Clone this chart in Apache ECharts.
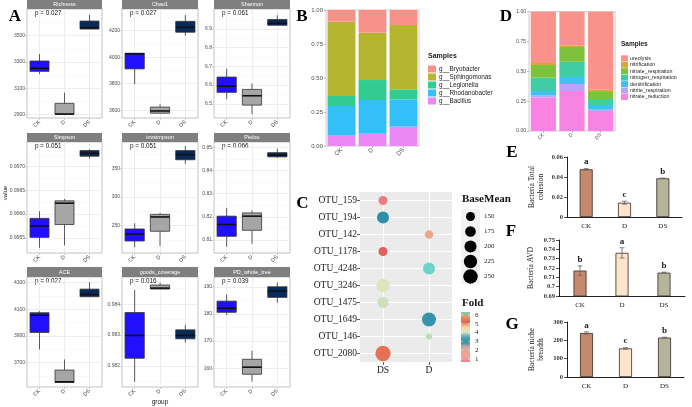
<!DOCTYPE html>
<html><head><meta charset="utf-8">
<script src="https://cdn.jsdelivr.net/npm/echarts@6/dist/echarts.min.js"></script>
<style>html,body{margin:0;padding:0;background:#fff;}#c{width:692px;height:407px;}</style>
</head><body><div id="c"></div>
<script>
// ---------- DATA ----------
const groups = ['CK', 'D', 'DS'];
// Panel A: box statistics [min, Q1, median, Q3, max] for CK, D, DS
const facetNames = ['Richness', 'Chao1', 'Shannon', 'Simpson', 'invsimpson', 'Pielou', 'ACE', 'goods_coverage', 'PD_whole_tree'];
const facetP = ['p = 0.027', 'p = 0.027', 'p = 0.061', 'p = 0.051', 'p = 0.051', 'p = 0.066', 'p = 0.027', 'p = 0.016', 'p = 0.039'];
const richnessStats = [[3208, 3228, 3251, 3307, 3360], [2900, 2901, 2902, 2984, 3065], [3551, 3551, 3561, 3612, 3658]];
const chao1Stats = [[3797, 3912, 4025, 4030, 4030], [3578, 3578, 3595, 3624, 3646], [4162, 4188, 4225, 4270, 4318]];
const shannonStats = [[6.525, 6.561, 6.594, 6.643, 6.688], [6.445, 6.493, 6.543, 6.577, 6.609], [6.92, 6.92, 6.93, 6.951, 6.974]];
const simpsonStats = [[0.99529, 0.99551, 0.99575, 0.99591, 0.99606], [0.99534, 0.99578, 0.99623, 0.99628, 0.99632], [0.99717, 0.99722, 0.99728, 0.99734, 0.99737]];
const invsimpsonStats = [[212, 223, 235, 244, 254], [214, 240, 265, 269.5, 272], [358, 365, 374, 381, 389]];
const pielouStats = [[0.8071, 0.8116, 0.8167, 0.8203, 0.8239], [0.8084, 0.8142, 0.8203, 0.8217, 0.8228], [0.8455, 0.8459, 0.8466, 0.8477, 0.8494]];
const aceStats = [[3800, 3927, 4057, 4075, 4087], [3552, 3552, 3557, 3645, 3725], [4195, 4195, 4212, 4252, 4303]];
const goodsStats = [[0.98149, 0.98225, 0.98299, 0.98373, 0.98446], [0.98449, 0.98449, 0.98452, 0.98462, 0.98470], [0.98276, 0.98288, 0.98299, 0.98317, 0.98333]];
const pdStats = [[179.6, 180.6, 182.1, 184.7, 187.2], [155.1, 157.8, 160.4, 163.3, 166.5], [184.1, 186.1, 188.4, 190.0, 191.6]];
const facetRange = [[2872, 3704], [3542, 4363], [6.424, 7.007], [0.99518, 0.99752], [202, 396], [0.8044, 0.8523], [3518, 4343], [0.98132, 0.98488], [153.1, 193.6]];
const facetTicks = [[2900, 3100, 3300, 3500], [3600, 3800, 4000, 4200], [6.5, 6.6, 6.7, 6.8, 6.9], [0.9955, 0.996, 0.9965, 0.997], [250, 300, 350], [0.81, 0.82, 0.83, 0.84, 0.85], [3700, 3900, 4100, 4300], [0.982, 0.983, 0.984], [160, 170, 180, 190]];
const facetMinorTicks = [[3000, 3200, 3400, 3600], [3700, 3900, 4100, 4300], [6.45, 6.55, 6.65, 6.75, 6.85, 6.95], [0.99525, 0.99575, 0.99625, 0.99675, 0.99725], [225, 275, 325, 375], [0.805, 0.815, 0.825, 0.835, 0.845], [3600, 3800, 4000, 4200], [0.9815, 0.9825, 0.9835, 0.9845], [155, 165, 175, 185]];
const facetDecimals = [0, 0, 1, 4, 0, 2, 0, 3, 0];

// Panel B: genus relative abundance (CK, D, DS)
const genusNames = ['g__Bryobacter', 'g__Sphingomonas', 'g__Legionella', 'g__Rhodanobacter', 'g__Bacillus'];
const bryobacter = [0.086, 0.167, 0.110];
const sphingomonas = [0.546, 0.348, 0.473];
const legionella = [0.074, 0.147, 0.074];
const rhodanobacter = [0.218, 0.248, 0.201];
const bacillus = [0.076, 0.090, 0.142];

// Panel D: function relative abundance (CK, D, DS)
const functionNames = ['ureolysis', 'nitrification', 'nitrate_respiration', 'nitrogen_respiration', 'denitrification', 'nitrite_respiration', 'nitrate_reduction'];
const ureolysis = [0.430, 0.285, 0.654];
const nitrification = [0.017, 0.011, 0.019];
const nitrateRespiration = [0.106, 0.124, 0.059];
const nitrogenRespiration = [0.112, 0.127, 0.050];
const denitrification = [0.035, 0.059, 0.034];
const nitriteRespiration = [0.020, 0.059, 0.016];
const nitrateReduction = [0.280, 0.335, 0.168];

// Panel C: OTU bubbles
const otuNames = ['OTU_159', 'OTU_194', 'OTU_142', 'OTU_1178', 'OTU_4248', 'OTU_3246', 'OTU_1475', 'OTU_1649', 'OTU_146', 'OTU_2080'];
const otuGroup = ['DS', 'DS', 'D', 'DS', 'D', 'DS', 'DS', 'D', 'D', 'DS'];
const otuBaseMean = [150, 199, 141, 150, 199, 224, 181, 239, 115, 268];
const otuFold = [1.0, 3.0, 2.0, 5.0, 6.0, 4.0, 3.95, 3.1, 3.9, 5.15];
const baseMeanLegend = [150, 175, 200, 225, 250];
const foldLegend = [6, 5, 4, 3, 2, 1];
const cGroups = ['DS', 'D'];

// Panels E, F, G
const totalCohesion = [0.0477, 0.0143, 0.0387];
const totalCohesionErr = [0.0007, 0.0015, 0.0003];
const totalCohesionLetters = ['a', 'c', 'b'];
const avd = [0.7172, 0.7362, 0.7150];
const avdErr = [0.005, 0.0055, 0.0006];
const avdLetters = ['b', 'a', 'b'];
const nicheBreadth = [240, 156, 215];
const nicheBreadthErr = [6, 4, 2];
const nicheBreadthLetters = ['a', 'c', 'b'];

// ---------- STYLE ----------
const SANS = 'Liberation Sans, Arial, sans-serif';
const SERIF = 'Liberation Serif, Times New Roman, serif';
const boxColors = ['#2010FF', '#A6A6A6', '#082A5A'];
const genusColors = ['#F8918A', '#B5B530', '#33CC90', '#33C0F8', '#EC88F5'];
const functionColors = ['#F8928B', '#D6A935', '#7DC23A', '#3ECDA5', '#3CC2EF', '#B7A5FB', '#F983E3'];
const foldPalette = ['#F07C82', '#F3A2A0', '#EDA68A', '#C9A9A8', '#2E8FAA', '#4FA7B1', '#DCE5BC', '#F4D79A', '#E2605A', '#EF9452', '#6AD5C8'];
const barColors = ['#C58A6E', '#FDE4CA', '#B4B59B'];

const grids = [], xAxes = [], yAxes = [], series = [], graphics = [];

function txt(x, y, text, st, extra) {
  graphics.push(Object.assign({ type: 'text', x, y, silent: true, style: Object.assign({ text, fill: '#1a1a1a', align: 'left', verticalAlign: 'middle' }, st) }, extra || {}));
}
function rect(x, y, w, h, fill) {
  graphics.push({ type: 'rect', silent: true, shape: { x, y, width: w, height: h }, style: { fill } });
}

// ---------- PANEL A ----------
const colX = [[27, 102], [122, 198], [214, 290]];
const rowY = [[9, 118], [142, 253], [277, 387]];
const stripY = [[0, 9], [133, 142], [267, 277]];
const facetStats = [richnessStats, chao1Stats, shannonStats, simpsonStats, invsimpsonStats, pielouStats, aceStats, goodsStats, pdStats];

function boxRender(params, api) {
  const k = api.value(0);
  const pMin = api.coord([k, api.value(1)]);
  const pQ1 = api.coord([k, api.value(2)]);
  const pMed = api.coord([k, api.value(3)]);
  const pQ3 = api.coord([k, api.value(4)]);
  const pMax = api.coord([k, api.value(5)]);
  const bw = api.size([1, 0])[0] * 0.76;
  const x = pMed[0];
  return {
    type: 'group', children: [
      { type: 'line', shape: { x1: x, y1: pQ3[1], x2: x, y2: pMax[1] }, style: { stroke: '#333', lineWidth: 0.8 } },
      { type: 'line', shape: { x1: x, y1: pQ1[1], x2: x, y2: pMin[1] }, style: { stroke: '#333', lineWidth: 0.8 } },
      { type: 'rect', shape: { x: x - bw / 2, y: pQ3[1], width: bw, height: pQ1[1] - pQ3[1] }, style: { fill: boxColors[k], stroke: '#333', lineWidth: 0.8 } },
      { type: 'line', shape: { x1: x - bw / 2, y1: pMed[1], x2: x + bw / 2, y2: pMed[1] }, style: { stroke: '#111', lineWidth: 1.6 } }
    ]
  };
}

facetNames.forEach((name, i) => {
  const r = Math.floor(i / 3), c = i % 3;
  const [x0, x1] = colX[c], [y0, y1] = rowY[r];
  const gi = grids.length;
  grids.push({ left: x0, top: y0, width: x1 - x0, height: y1 - y0, show: true, backgroundColor: '#fff', borderColor: '#B3B3B3', borderWidth: 0.8 });
  const xi = xAxes.length;
  xAxes.push({
    gridIndex: gi, type: 'category', data: groups,
    axisLine: { show: false },
    axisTick: { show: true, alignWithLabel: true, length: 2, lineStyle: { color: '#B3B3B3', width: 0.6 } },
    axisLabel: { rotate: 45, fontSize: 5.5, color: '#4D4D4D', fontFamily: SANS, margin: 3 },
    splitLine: { show: true, alignWithLabel: true, lineStyle: { color: '#E6E6E6', width: 0.7 } }
  });
  const yi = yAxes.length;
  const dec = facetDecimals[i];
  yAxes.push({
    gridIndex: gi, type: 'value', min: facetRange[i][0], max: facetRange[i][1],
    axisLine: { show: false },
    axisTick: { show: true, length: 2, customValues: facetTicks[i], lineStyle: { color: '#B3B3B3', width: 0.6 } },
    axisLabel: { customValues: facetTicks[i], fontSize: 5, color: '#4D4D4D', fontFamily: SANS, margin: 2, formatter: v => Number(v).toFixed(dec) },
    splitLine: { show: true, lineStyle: { color: '#E6E6E6', width: 0.7 } }
  });
  yAxes.push({
    gridIndex: gi, type: 'value', min: facetRange[i][0], max: facetRange[i][1], position: 'left',
    axisLine: { show: false },
    axisTick: { show: false, customValues: facetMinorTicks[i] },
    axisLabel: { show: false, customValues: facetMinorTicks[i] },
    splitLine: { show: true, lineStyle: { color: '#F3F3F3', width: 0.5 } }
  });
  series.push({
    type: 'custom', xAxisIndex: xi, yAxisIndex: yi, renderItem: boxRender, silent: true, z: 3,
    data: facetStats[i].map((s, k) => [k].concat(s)), encode: { x: 0, y: [1, 2, 3, 4, 5] }
  });
  const [s0, s1] = stripY[r];
  rect(x0, s0, x1 - x0, s1 - s0, '#7F7F7F');
  txt((x0 + x1) / 2, (s0 + s1) / 2, name, { fill: '#fff', fontSize: 5.5, fontFamily: SANS, align: 'center' });
  txt(x0 + 8, y0 + 4.5, facetP[i], { fontSize: 6.3, fontFamily: SANS, fill: '#111' });
});
txt(5, 193, 'value', { fontSize: 6, fontFamily: SANS, align: 'center' }, { rotation: Math.PI / 2 });
txt(160, 402, 'group', { fontSize: 6.5, fontFamily: SANS, align: 'center' });

// ---------- stacked bar panels B and D ----------
function stackedPanel(rectDef, seriesData, colors, names, gapPct, fs) {
  const gi = grids.length;
  grids.push(Object.assign({ show: true, backgroundColor: '#fff', borderColor: '#BDBDBD', borderWidth: 0.8 }, rectDef));
  const xi = xAxes.length;
  xAxes.push({
    gridIndex: gi, type: 'category', data: groups, axisLine: { show: false },
    axisTick: { show: true, alignWithLabel: true, length: 2, lineStyle: { color: '#999', width: 0.6 } },
    axisLabel: { rotate: 45, fontSize: fs, color: '#4D4D4D', fontFamily: SANS, margin: 3 }
  });
  const yi = yAxes.length;
  yAxes.push({
    gridIndex: gi, type: 'value', min: 0, max: 1, interval: 0.25, axisLine: { show: false },
    axisTick: { show: true, length: 2, lineStyle: { color: '#999', width: 0.6 } },
    axisLabel: { fontSize: fs, color: '#4D4D4D', fontFamily: SANS, margin: 3, formatter: v => Number(v).toFixed(2) },
    splitLine: { show: false }
  });
  // ggplot stacks first level on top -> push in reverse order
  for (let j = seriesData.length - 1; j >= 0; j--) {
    series.push({
      type: 'bar', name: names[j], stack: 'st' + gi, xAxisIndex: xi, yAxisIndex: yi,
      data: seriesData[j], barCategoryGap: gapPct, itemStyle: { color: colors[j] }, silent: true
    });
  }
}
stackedPanel({ left: 326, top: 10, width: 93, height: 136 }, [bryobacter, sphingomonas, legionella, rhodanobacter, bacillus], genusColors, genusNames, '10%', 6);
stackedPanel({ left: 529, top: 11.7, width: 86, height: 119.3 }, [ureolysis, nitrification, nitrateRespiration, nitrogenRespiration, denitrification, nitriteRespiration, nitrateReduction], functionColors, functionNames, '12%', 5);

// legends B & D
txt(428, 56, 'Samples', { fontSize: 7, fontWeight: 'bold', fontFamily: SANS });
genusNames.forEach((n, j) => {
  rect(428, 69 + 8 * j - 3.5, 8, 7, genusColors[j]);
  txt(439, 69 + 8 * j, n, { fontSize: 6.3, fontFamily: SANS, fill: '#222' });
});
txt(621, 44.5, 'Samples', { fontSize: 6.5, fontWeight: 'bold', fontFamily: SANS });
functionNames.forEach((n, j) => {
  rect(621, 58.3 + 6.45 * j - 3, 7, 6, functionColors[j]);
  txt(630, 58.3 + 6.45 * j, n, { fontSize: 5.3, fontFamily: SANS, fill: '#222' });
});

// ---------- PANEL C ----------
function bubbleSize(v) { return Math.sqrt(Math.max(9, -112.5 + 1.29 * v)); }
{
  const gi = grids.length;
  grids.push({ left: 360, top: 192, width: 92, height: 170, show: true, backgroundColor: '#EBEBEB', borderWidth: 0 });
  const xi = xAxes.length;
  xAxes.push({
    gridIndex: gi, type: 'category', data: cGroups, axisLine: { show: false },
    axisTick: { show: true, alignWithLabel: true, length: 3, lineStyle: { color: '#333', width: 0.8 } },
    axisLabel: { fontSize: 9.5, fontFamily: SERIF, color: '#1a1a1a', margin: 3 },
    splitLine: { show: true, alignWithLabel: true, lineStyle: { color: '#fff', width: 1.1 } }
  });
  const yi = yAxes.length;
  yAxes.push({
    gridIndex: gi, type: 'category', data: otuNames, inverse: true, axisLine: { show: false },
    axisTick: { show: true, alignWithLabel: true, length: 3, lineStyle: { color: '#333', width: 0.8 } },
    axisLabel: { fontSize: 9.5, fontFamily: SERIF, color: '#1a1a1a', margin: 3 },
    splitLine: { show: true, alignWithLabel: true, lineStyle: { color: '#fff', width: 1.1 } }
  });
  series.push({
    type: 'scatter', xAxisIndex: xi, yAxisIndex: yi, silent: true, z: 5,
    data: otuNames.map((n, i) => [otuGroup[i], n, otuBaseMean[i], otuFold[i]]),
    symbolSize: v => bubbleSize(v[2]), itemStyle: { opacity: 1 }
  });
}
var cSeriesIndex = series.length - 1;
// BaseMean legend
txt(462, 199, 'BaseMean', { fontSize: 11, fontWeight: 'bold', fontFamily: SERIF, fill: '#111' });
rect(461, 209, 19, 75, '#F2F2F2');
baseMeanLegend.forEach((v, j) => {
  const cy = 216.5 + 15 * j;
  graphics.push({ type: 'circle', silent: true, shape: { cx: 470.5, cy, r: bubbleSize(v) / 2 }, style: { fill: '#000' } });
  txt(484, cy, String(v), { fontSize: 7, fontFamily: SERIF, fill: '#222' });
});
// Fold legend
txt(462, 303, 'Fold', { fontSize: 11, fontWeight: 'bold', fontFamily: SERIF, fill: '#111' });
graphics.push({
  type: 'rect', silent: true, shape: { x: 461, y: 312, width: 9, height: 50 },
  style: { fill: new echarts.graphic.LinearGradient(0, 0, 0, 1, foldPalette.slice().reverse().map((c, j, a) => ({ offset: j / (a.length - 1), color: c }))) }
});
foldLegend.forEach(v => {
  const y = 315 + (6 - v) * 8.8;
  graphics.push({ type: 'line', silent: true, shape: { x1: 461, y1: y, x2: 463, y2: y }, style: { stroke: '#fff', lineWidth: 0.6 } });
  graphics.push({ type: 'line', silent: true, shape: { x1: 468, y1: y, x2: 470, y2: y }, style: { stroke: '#fff', lineWidth: 0.6 } });
  txt(475, y, String(v), { fontSize: 7, fontFamily: SERIF, fill: '#222' });
});

// ---------- PANELS E, F, G ----------
function barPanel(rectDef, values, errs, letters, yCfg, name, nameGap) {
  const gi = grids.length;
  grids.push(Object.assign({ show: false }, rectDef));
  const xi = xAxes.length;
  xAxes.push({
    gridIndex: gi, type: 'category', data: groups,
    axisLine: { show: true, lineStyle: { color: '#222', width: 1 } },
    axisTick: { show: false },
    axisLabel: { fontSize: 7, fontFamily: SERIF, color: '#222', margin: 6 }
  });
  const yi = yAxes.length;
  yAxes.push(Object.assign({
    gridIndex: gi, type: 'value',
    axisLine: { show: true, lineStyle: { color: '#222', width: 1 } },
    axisTick: { show: true, length: 3, lineStyle: { color: '#222', width: 0.8 } },
    axisLabel: { fontSize: 6.5, fontFamily: SERIF, fontWeight: 'bold', color: '#333', margin: 4 },
    splitLine: { show: false },
    name, nameLocation: 'middle', nameRotate: 90, nameGap,
    nameTextStyle: { fontSize: 7.5, fontFamily: SERIF, color: '#222', lineHeight: 8.5 }
  }, yCfg));
  series.push({
    type: 'bar', xAxisIndex: xi, yAxisIndex: yi, barWidth: 13, silent: true,
    data: values.map((v, k) => ({ value: v, itemStyle: { color: barColors[k] } })),
    itemStyle: { borderColor: '#3a2a22', borderWidth: 0.8 }
  });
  series.push({
    type: 'custom', xAxisIndex: xi, yAxisIndex: yi, silent: true, z: 4,
    data: values.map((v, k) => [k, v - errs[k], v + errs[k]]), encode: { x: 0, y: [1, 2] },
    renderItem: (params, api) => {
      const k = api.value(0);
      const lo = api.coord([k, api.value(1)]), hi = api.coord([k, api.value(2)]);
      const x = lo[0];
      return {
        type: 'group', children: [
          { type: 'line', shape: { x1: x, y1: lo[1], x2: x, y2: hi[1] }, style: { stroke: '#666', lineWidth: 0.8 } },
          { type: 'line', shape: { x1: x - 2.5, y1: hi[1], x2: x + 2.5, y2: hi[1] }, style: { stroke: '#666', lineWidth: 0.8 } },
          { type: 'line', shape: { x1: x - 2.5, y1: lo[1], x2: x + 2.5, y2: lo[1] }, style: { stroke: '#666', lineWidth: 0.8 } },
          { type: 'text', x: x, y: hi[1] - 2, style: { text: letters[params.dataIndex], fontSize: 9, fontWeight: 'bold', fontFamily: SERIF, fill: '#222', align: 'center', verticalAlign: 'bottom' } }
        ]
      };
    }
  });
}
barPanel({ left: 567, top: 157, width: 115, height: 60 }, totalCohesion, totalCohesionErr, totalCohesionLetters, { min: 0, max: 0.06, interval: 0.02 }, 'Bacteria Total\ncohesion', 22);
barPanel({ left: 559, top: 240, width: 126, height: 56 }, avd, avdErr, avdLetters, { min: 0.69, max: 0.75, interval: 0.01 }, 'Bacteria AVD', 24);
barPanel({ left: 567, top: 322, width: 117, height: 55 }, nicheBreadth, nicheBreadthErr, nicheBreadthLetters, { min: 0, max: 300, interval: 100 }, 'Bacteria niche\nbreadth', 22);

// panel letters
[['A', 15, 17], ['B', 302, 17], ['D', 506, 17], ['C', 302.5, 204], ['E', 512, 153], ['F', 511, 232], ['G', 512, 325]].forEach(([t, x, y]) => {
  txt(x, y, t, { fontSize: 17, fontWeight: 'bold', fontFamily: SERIF, fill: '#000', align: 'center' });
});

const chart = echarts.init(document.getElementById('c'), null, { renderer: 'canvas' });
chart.setOption({
  animation: false,
  backgroundColor: '#fff',
  grid: grids, xAxis: xAxes, yAxis: yAxes, series,
  visualMap: [{ show: false, type: 'continuous', seriesIndex: cSeriesIndex, dimension: 3, min: 1, max: 6, inRange: { color: foldPalette } }],
  graphic: { elements: graphics }
});
</script>
</body></html>
